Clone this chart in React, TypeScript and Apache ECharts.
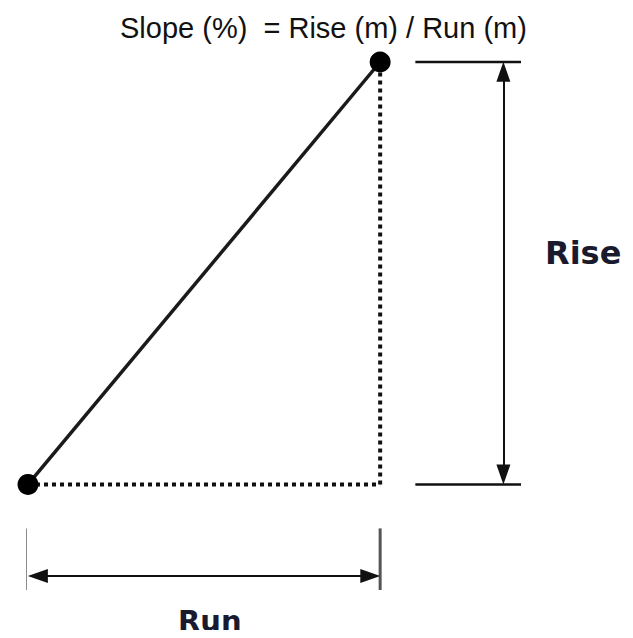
import React, { useEffect, useRef } from "react";
import * as echarts from "echarts";

// Diagram values (in abstract units)
const runValue = 10;
const riseValue = 12;
const endPoints: number[][] = [[0, 0], [runValue, riseValue]];
const slopeLine: number[][] = [[0, 0], [runValue, riseValue]];
const runDotted: number[][] = [[0, 0], [runValue, 0]];
const riseDotted: number[][] = [[runValue, 0], [runValue, riseValue]];
const riseTopExt: number[][] = [[11, riseValue], [14, riseValue]];
const riseBottomExt: number[][] = [[11, 0], [14, 0]];
const riseArrowX = 13.5;
const runArrowY = -2.6;
const arrowInset = 0.28; // half an arrowhead, so its tip lands on the end
const runTickLeft: number[][] = [[-0.08, -1.25], [-0.08, -3]];
const runTickRight: number[][] = [[runValue, -1.25], [runValue, -3]];
const titleText = "Slope (%)  = Rise (m) / Run (m)";
const riseLabel = "Rise";
const runLabel = "Run";

export default function App() {
  const ref = useRef<HTMLDivElement>(null);
  useEffect(() => {
    if (!ref.current) return;
    const chart = echarts.init(ref.current, null, { renderer: "svg" });
    const dark = "#111";
    const line = (data: number[][], width: number, type: any = "solid", color = dark) => ({
      type: "line",
      data,
      symbol: "none",
      silent: true,
      clip: false,
      lineStyle: { color, width, type },
      z: 2,
    });
    chart.setOption({
      animation: false,
      title: {
        text: titleText,
        left: 115,
        top: 8,
        textStyle: { fontFamily: "Liberation Sans, Arial", fontWeight: "normal", fontSize: 29, color: "#111" },
      },
      grid: { left: 28, right: 112, top: 62, bottom: 48 },
      xAxis: { type: "value", min: 0, max: 14, show: false },
      yAxis: { type: "value", min: -3, max: 12, show: false },
      series: [
        line(runDotted, 4, [4, 4]),
        line(riseDotted, 4, [4, 4]),
        line(slopeLine, 3.5, "solid", "#1a1a1a"),
        line(riseTopExt, 2.5),
        line(riseBottomExt, 2.5),
        line(runTickLeft, 3, "solid", "#555"),
        line(runTickRight, 3, "solid", "#555"),
        {
          type: "line",
          data: [],
          markLine: {
            silent: true,
            symbol: ["triangle", "triangle"],
            symbolSize: [14, 20],
            label: { show: false },
            lineStyle: { color: dark, width: 2, type: "solid" },
            data: [
              [{ coord: [riseArrowX, riseValue - arrowInset] }, { coord: [riseArrowX, arrowInset] }],
              [{ coord: [arrowInset, runArrowY] }, { coord: [runValue - arrowInset, runArrowY] }],
            ],
          },
        },
        {
          type: "scatter",
          data: endPoints,
          symbol: "circle",
          symbolSize: 21,
          silent: true,
          itemStyle: { color: "#000", opacity: 1 },
          z: 5,
        },
      ],
      graphic: [
        {
          type: "text",
          left: 545,
          top: 237,
          style: { text: riseLabel, font: "bold 32px 'DejaVu Sans', Verdana", fill: "#1a1a2e" },
        },
        {
          type: "text",
          left: 178,
          top: 606,
          style: { text: runLabel, font: "bold 29px 'DejaVu Sans', Verdana", fill: "#1a1a2e" },
        },
      ],
    });
    return () => chart.dispose();
  }, []);
  return <div ref={ref} style={{ width: 633, height: 638, margin: -8 }} />;
}
